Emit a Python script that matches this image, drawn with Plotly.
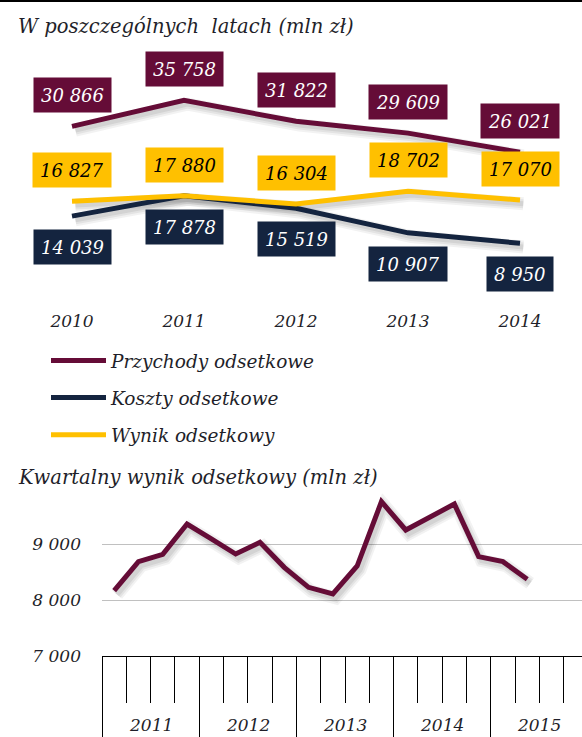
import plotly.graph_objects as go

# ---- data: yearly interest figures (mln zł) ----
years = ["2010", "2011", "2012", "2013", "2014"]
przychody = [30866, 35758, 31822, 29609, 26021]
koszty = [14039, 17878, 15519, 10907, 8950]
wynik = [16827, 17880, 16304, 18702, 17070]

# ---- data: quarterly net interest income (mln zł), 2011 Q1 .. 2015 Q2 ----
quarter_years = ["2011", "2012", "2013", "2014", "2015"]
kwartalny = [8167, 8685, 8815, 9357, 9090, 8821, 9030, 8583, 8226,
             8107, 8607, 9756, 9250, 9482, 9714, 8774, 8685, 8369]
q_ticks = [7000, 8000, 9000]

MAROON = "#650c37"
NAVY = "#14243f"
GOLD = "#ffc000"
TEXT = "#1f1f2a"
FONT = "DejaVu Serif"

W, H = 582, 737


def px_x(p):
    return p / W


def px_y(p):
    return 1 - p / H


def fmt(v):
    return f"{v:,}".replace(",", "\u00a0")


fig = go.Figure()


# soft drop shadows under the lines
def add_shadow(xs, ys, xa, ya, dx, dy):
    for w, a in ((13, 0.05), (9, 0.06), (5, 0.07)):
        fig.add_trace(go.Scatter(
            x=[x + dx for x in xs], y=[y + dy for y in ys], xaxis=xa, yaxis=ya,
            mode="lines", line=dict(color=f"rgba(0,0,0,{a})", width=w),
            showlegend=False, hoverinfo="skip"))


idx = list(range(len(years)))
for series in (przychody, koszty, wynik):
    add_shadow(idx, series, "x", "y", 0.03, -700)

q_idx = list(range(len(kwartalny)))
add_shadow(q_idx, kwartalny, "x2", "y2", 0.12, -70)

# yearly lines
for name, series, color in (("Przychody odsetkowe", przychody, MAROON),
                             ("Koszty odsetkowe", koszty, NAVY),
                             ("Wynik odsetkowy", wynik, GOLD)):
    fig.add_trace(go.Scatter(
        x=idx, y=series, mode="lines", name=name, legendgroup=name,
        line=dict(color=color, width=5), xaxis="x", yaxis="y"))

# quarterly line
fig.add_trace(go.Scatter(
    x=q_idx, y=kwartalny, mode="lines", showlegend=False,
    line=dict(color=MAROON, width=5), xaxis="x2", yaxis="y2"))

annotations = []

# value boxes
for series, bg, fg, shift in ((przychody, MAROON, "white", 31),
                              (wynik, GOLD, "black", 31),
                              (koszty, NAVY, "white", -31)):
    for i, v in enumerate(series):
        annotations.append(dict(
            x=i, y=v, xref="x", yref="y", text=fmt(v), showarrow=False,
            yshift=shift, bgcolor=bg, borderpad=7, height=20,
            font=dict(family=FONT, size=18, color=fg, style="italic")))

# chart titles
annotations.append(dict(
    x=px_x(16), y=px_y(27), xref="paper", yref="paper", xanchor="left",
    yanchor="middle", showarrow=False,
    text="W poszczególnych\u00a0 latach (mln zł)",
    font=dict(family=FONT, size=19.5, color=TEXT, style="italic")))
annotations.append(dict(
    x=px_x(16), y=px_y(477), xref="paper", yref="paper", xanchor="left",
    yanchor="middle", showarrow=False,
    text="Kwartalny wynik odsetkowy (mln zł)",
    font=dict(family=FONT, size=19.5, color=TEXT, style="italic")))

# year labels under the quarterly axis
for k, yr in enumerate(quarter_years):
    annotations.append(dict(
        x=4 * k + 1.5, y=0, xref="x2", yref="paper",
        xanchor="center", yanchor="bottom", showarrow=False, text=yr,
        font=dict(family=FONT, size=17, color=TEXT, style="italic")))

tick_font = dict(family=FONT, size=17, color=TEXT, style="italic")

fig.update_layout(
    width=W, height=H,
    margin=dict(l=0, r=0, t=0, b=0, autoexpand=False),
    paper_bgcolor="white", plot_bgcolor="white",
    annotations=annotations,
    shapes=[dict(type="line", xref="paper", yref="paper", x0=0, x1=1,
                 y0=1, y1=1, line=dict(color="black", width=4))],
    legend=dict(x=px_x(46), y=px_y(342), xanchor="left", yanchor="top",
                bgcolor="rgba(0,0,0,0)", tracegroupgap=10, itemwidth=55,
                font=dict(family=FONT, size=18.5, color=TEXT, style="italic")),
    xaxis=dict(domain=[px_x(16), px_x(576)], range=[-0.5, 4.5],
               tickmode="array", tickvals=idx, ticktext=years,
               ticks="outside", ticklen=15, tickcolor="rgba(0,0,0,0)",
               showline=False, showgrid=False, zeroline=False,
               automargin=False, tickfont=tick_font, fixedrange=True),
    yaxis=dict(domain=[px_y(291), px_y(77.7)], range=[0, 40000],
               visible=False, automargin=False, fixedrange=True),
    xaxis2=dict(anchor="y2", domain=[px_x(102), 1],
                range=[-0.5, -0.5 + 480 / 24.3],
                tickmode="array",
                tickvals=[4 * k - 0.5 for k in range(len(quarter_years) + 1)],
                ticks="outside", ticklen=81, tickcolor="black", tickwidth=1,
                showticklabels=False, showline=True, linecolor="black",
                linewidth=1, showgrid=False, zeroline=False,
                minor=dict(tickmode="array",
                           tickvals=[i - 0.5 for i in range(4 * len(quarter_years) + 1)],
                           ticks="outside", ticklen=46, tickcolor="black",
                           tickwidth=1, showgrid=False),
                automargin=False, fixedrange=True),
    yaxis2=dict(anchor="x2", domain=[px_y(656), px_y(493.6)],
                range=[7000, 9900], tickmode="array", tickvals=q_ticks,
                ticktext=[fmt(v) for v in q_ticks],
                showgrid=True, gridcolor="#c0c0c0", gridwidth=1,
                zeroline=False, showline=False, ticks="",
                ticklabelstandoff=20, tickfont=tick_font,
                automargin=False, fixedrange=True),
)

fig.write_html("out.html")
